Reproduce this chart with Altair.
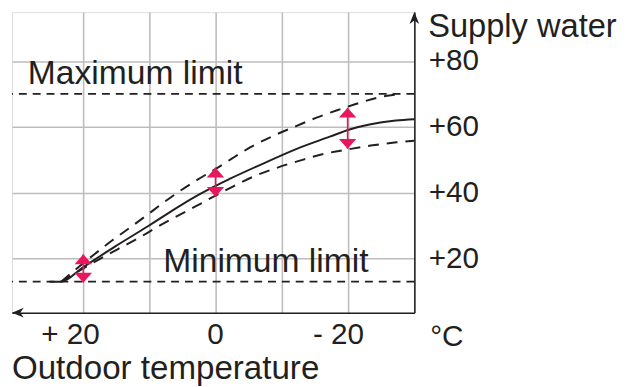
import altair as alt
import pandas as pd

# ---- data ----
# x: outdoor temperature (°C), y: supply water temperature (°C)
solid_temp = [25.1, 23.35, 20.1, 15.1, 10.1, 5.2, 2.65, 0.15, -2.3, -7.3, -12.3, -17.3, -20.3, -23.3, -27.3, -30.1]
solid_val = [12.9, 12.9, 17.2, 23.7, 29.9, 36.2, 39.2, 41.9, 44.3, 48.9, 53.3, 57.0, 59.2, 60.7, 61.9, 62.3]

upper_temp = [23.35, 18.6, 15.6, 12.9, 10.6, 7.9, 5.15, 2.65, -0.35, -2.3, -5.3, -8.8, -12.3, -15.3, -18.8, -21.8, -24.8, -28.3]
upper_val = [12.9, 20.8, 25.5, 29.4, 32.8, 36.9, 40.8, 44.0, 47.6, 50.1, 53.8, 57.3, 60.3, 62.8, 65.3, 67.3, 69.0, 70.0]

lower_temp = [23.35, 17.6, 14.4, 11.6, 9.1, 6.1, 3.1, 0.35, -2.4, -5.9, -9.4, -12.9, -16.5, -20.5, -23.5, -27.4, -30.1]
lower_val = [12.9, 19.7, 23.2, 26.2, 29.2, 32.5, 35.7, 38.7, 41.6, 45.0, 47.6, 49.8, 51.8, 53.3, 54.3, 55.3, 55.8]

limit_names = ["Maximum limit", "Minimum limit"]
limit_values = [70, 12.9]

arrow_temp = [20, 0, -20]
arrow_low = [12.6, 38.7, 53.3]
arrow_high = [21.2, 47.6, 65.8]

x_grid = [20, 10, 0, -10, -20]
x_tick_values = [20, 0, -20]
x_tick_labels = ["+ 20", "0", "- 20"]
y_grid = [20, 40, 60, 80]

x_domain = [-30.1, 30.8]
y_domain = [3.46, 94.9]

# ---- styling ----
INK = "#231f20"
PINK = "#e8175d"
BG = "#d5ecf8"
GRID = "#bdbdbd"
FONT = "Liberation Sans"
W, H = 407, 304

xscale = alt.Scale(domain=x_domain, reverse=True, nice=False, zero=False)
yscale = alt.Scale(domain=y_domain, nice=False, zero=False)
xaxis = alt.Axis(values=x_grid, labels=False, ticks=False, title=None, grid=True,
                 gridColor=GRID, gridWidth=1.6, domainColor=INK, domainWidth=1.6)
yaxis = alt.Axis(orient="right", values=y_grid, ticks=False, title=None, grid=True,
                 gridColor=GRID, gridWidth=1.6, domainColor=INK, domainWidth=1.6,
                 labelExpr="'+' + datum.value", labelFont=FONT, labelFontSize=30,
                 labelColor=INK, labelPadding=14)


def X(field):
    return alt.X(field, type="quantitative", scale=xscale, axis=xaxis)


def Y(field):
    return alt.Y(field, type="quantitative", scale=yscale, axis=yaxis)


solid_df = pd.DataFrame({"temp": solid_temp, "val": solid_val})
upper_df = pd.DataFrame({"temp": upper_temp, "val": upper_val})
lower_df = pd.DataFrame({"temp": lower_temp, "val": lower_val})
limits_df = pd.DataFrame({"name": limit_names, "val": limit_values})
arrows_df = pd.DataFrame({"temp": arrow_temp, "low": arrow_low, "high": arrow_high})
ticks_df = pd.DataFrame({
    "temp": x_tick_values,
    "digits": [t.split(" ")[-1] for t in x_tick_labels],
    "sign": [t.split(" ")[0] if " " in t else "" for t in x_tick_labels],
})

limit_lines = alt.Chart(limits_df).mark_rule(color=INK, strokeWidth=1.8, strokeDash=[8, 6]).encode(
    y=Y("val")
)

solid = alt.Chart(solid_df).mark_line(color=INK, strokeWidth=2, interpolate="monotone").encode(
    x=X("temp"), y=Y("val"), order=alt.Order("temp", sort="descending")
)
upper = alt.Chart(upper_df).mark_line(color=INK, strokeWidth=2, strokeDash=[11, 8],
                                      interpolate="monotone").encode(
    x=X("temp"), y=Y("val"), order=alt.Order("temp", sort="descending")
)
lower = alt.Chart(lower_df).mark_line(color=INK, strokeWidth=2, strokeDash=[11, 8],
                                      interpolate="monotone").encode(
    x=X("temp"), y=Y("val"), order=alt.Order("temp", sort="descending")
)

arrow_shaft = alt.Chart(arrows_df).mark_rule(color=PINK, strokeWidth=1.6).encode(
    x=X("temp"), y=Y("low"), y2="high"
)
arrow_up = alt.Chart(arrows_df).mark_point(
    filled=True, opacity=1, color=PINK, size=484, shape="M0,0L0.8,0.9L-0.8,0.9Z"
).encode(x=X("temp"), y=Y("high"))
arrow_down = alt.Chart(arrows_df).mark_point(
    filled=True, opacity=1, color=PINK, size=484, shape="M0,0L0.8,-0.9L-0.8,-0.9Z"
).encode(x=X("temp"), y=Y("low"))

tick_digits = alt.Chart(ticks_df).mark_text(
    font=FONT, fontSize=30, color=INK, align="center", baseline="alphabetic"
).encode(x=X("temp"), y=alt.value(H + 32), text="digits:N")
tick_signs = alt.Chart(ticks_df).mark_text(
    font=FONT, fontSize=30, color=INK, align="right", baseline="alphabetic", dx=-25
).encode(x=X("temp"), y=alt.value(H + 32), text="sign:N")


def label(txt, px, py, size):
    return alt.Chart(pd.DataFrame({"t": [txt]})).mark_text(
        font=FONT, fontSize=size, color=INK, align="left", baseline="alphabetic"
    ).encode(x=alt.value(px), y=alt.value(py), text="t:N")


limit_labels = (
    label(limit_names[0], 16, 73, 34)
    + label(limit_names[1], 153, 263, 34)
)
titles = (
    label("Supply water", 421, 25, 33)
    + label("°C", 423, 338, 30)
    + label("Outdoor temperature", 0, 371, 33.5)
)

one = pd.DataFrame({"k": [0]})
x_arrow = alt.Chart(one).mark_point(
    filled=True, opacity=1, color=INK, size=196, shape="M0,0L1.7,-0.7L1.2,0L1.7,0.7Z"
).encode(x=alt.value(0), y=alt.value(H))
y_arrow = alt.Chart(one).mark_point(
    filled=True, opacity=1, color=INK, size=196, shape="M0,0L0.7,1.7L0,1.2L-0.7,1.7Z"
).encode(x=alt.value(W), y=alt.value(0))

chart = alt.layer(
    limit_lines, lower, upper, solid, arrow_shaft, arrow_up, arrow_down,
    tick_digits, tick_signs, limit_labels, titles, x_arrow, y_arrow
).properties(
    width=W, height=H,
    autosize="none",
    padding={"left": 4, "top": 2, "right": 209, "bottom": 73},
).configure_view(fill=BG, stroke="transparent").configure(background="white")

chart.save("out.html", embed_options={"renderer": "svg", "actions": False})
